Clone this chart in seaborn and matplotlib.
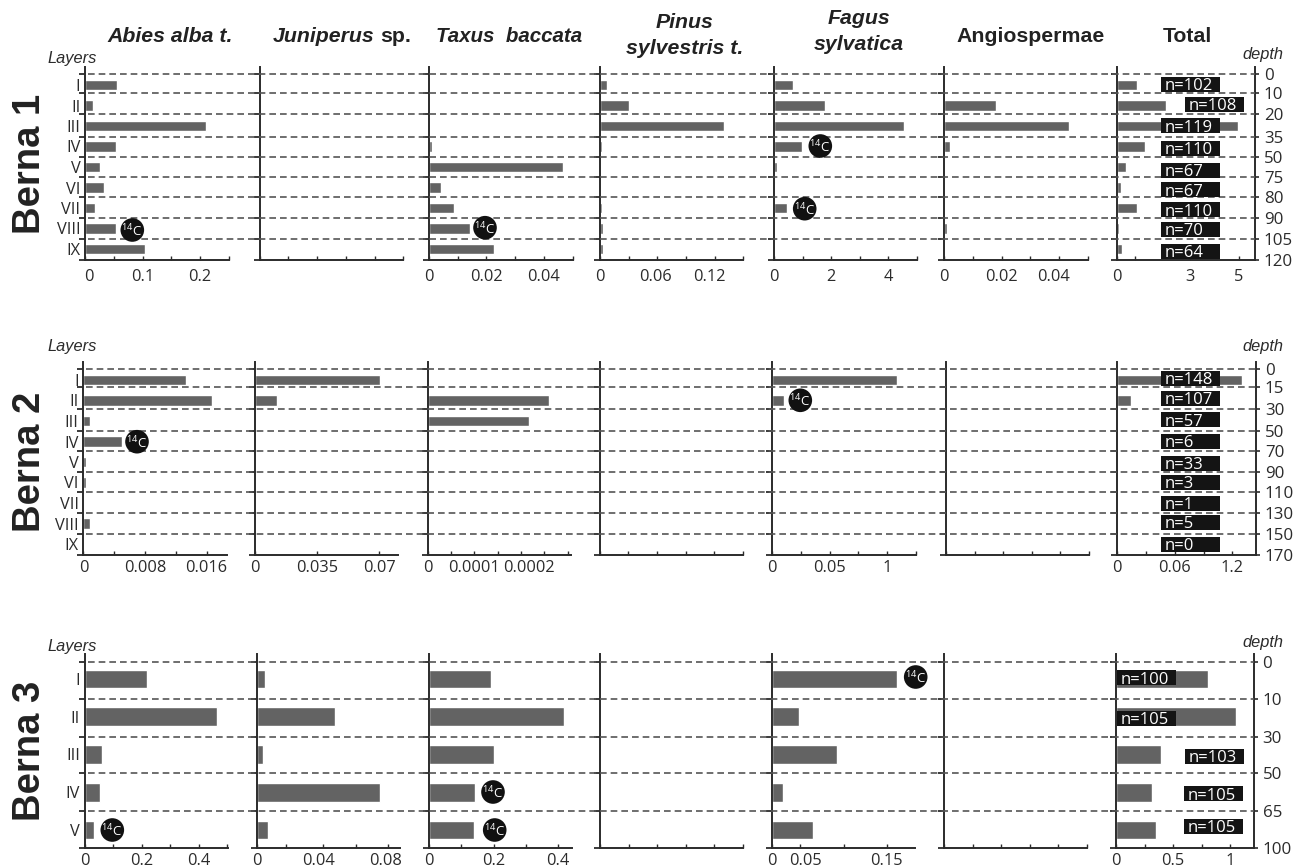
import matplotlib
matplotlib.use("Agg")
import matplotlib.pyplot as plt
import seaborn as sns
from matplotlib.patches import Circle, Rectangle
from matplotlib.transforms import ScaledTranslation

# ---------- data ----------
layers_9 = ["I", "II", "III", "IV", "V", "VI", "VII", "VIII", "IX"]
layers_5 = ["I", "II", "III", "IV", "V"]
taxa_count = 7

b1_abies = [0.055, 0.0127, 0.21, 0.053, 0.026, 0.033, 0.0174, 0.054, 0.104]
b1_juniperus = [0, 0, 0, 0, 0, 0, 0, 0, 0]
b1_taxus = [0, 0, 0, 0.0009, 0.0467, 0.0041, 0.0088, 0.0144, 0.0226]
b1_pinus = [0.007, 0.0304, 0.1295, 0.002, 0, 0, 0.002, 0.0028, 0.0035]
b1_fagus = [0.65, 1.78, 4.57, 0.99, 0.09, 0.035, 0.44, 0, 0]
b1_angio = [0, 0.0182, 0.0434, 0.0021, 0, 0, 0, 0.001, 0]
b1_total = [0.82, 2.0, 4.96, 1.16, 0.37, 0.15, 0.81, 0.08, 0.19]

b2_abies = [0.01327, 0.0167, 0.0008, 0.005, 0.00035, 0.0003, 0, 0.0008, 0]
b2_juniperus = [0.0702, 0.0121, 0, 0, 0, 0, 0, 0, 0]
b2_taxus = [0, 0.000259, 0.000218, 0, 0, 0, 0, 0, 0]
b2_pinus = [0, 0, 0, 0, 0, 0, 0, 0, 0]
b2_fagus = [0.109, 0.01, 0, 0, 0, 0, 0, 0, 0]
b2_angio = [0, 0, 0, 0, 0, 0, 0, 0, 0]
b2_total = [0.1306, 0.0146, 0, 0, 0, 0, 0, 0, 0]

b3_abies = [0.218, 0.463, 0.061, 0.052, 0.032]
b3_juniperus = [0.0047, 0.0474, 0.0035, 0.075, 0.0067]
b3_taxus = [0.192, 0.419, 0.201, 0.142, 0.139]
b3_pinus = [0, 0, 0, 0, 0]
b3_fagus = [0.163, 0.0352, 0.0855, 0.0151, 0.0535]
b3_angio = [0, 0, 0, 0, 0]
b3_total = [0.807, 1.05, 0.395, 0.318, 0.35]

b1_depth = ["0", "10", "20", "35", "50", "75", "80", "90", "105", "120"]
b2_depth = ["0", "15", "30", "50", "70", "90", "110", "130", "150", "170"]
b3_depth = ["0", "10", "30", "50", "65", "100"]

b1_n = ["n=102", "n=108", "n=119", "n=110", "n=67", "n=67", "n=110", "n=70", "n=64"]
b2_n = ["n=148", "n=107", "n=57", "n=6", "n=33", "n=3", "n=1", "n=5", "n=0"]
b3_n = ["n=100", "n=105", "n=103", "n=105", "n=105"]

site_names = ["Berna 1", "Berna 2", "Berna 3"]

# axis maxima, tick values and tick labels per panel
b1_axes = [
    (0.25, [0, .05, .1, .15, .2, .25], ["0", "", "0.1", "", "0.2", ""]),
    (5, [0, 1, 2, 3, 4, 5], [""] * 6),
    (0.05, [0, .01, .02, .03, .04, .05], ["0", "", "0.02", "", "0.04", ""]),
    (0.15, [0, .03, .06, .09, .12, .15], ["0", "", "0.06", "", "0.12", ""]),
    (5, [0, 1, 2, 3, 4, 5], ["0", "", "2", "", "4", ""]),
    (0.05, [0, .01, .02, .03, .04, .05], ["0", "", "0.02", "", "0.04", ""]),
    (5.68, [0, .72, 3, 5], ["0", "", "3", "5"]),
]
b2_axes = [
    (0.0186, [0, .004, .008, .012, .016], ["0", "", "0.008", "", "0.016"]),
    (0.0806, [0, .035, .07], ["0", "0.035", "0.07"]),
    (0.000308, [0, .00005, .0001, .00015, .0002, .00025, .0003],
     ["0", "", "0.0001", "", "0.0002", "", ""]),
    (5, [0, 1, 2, 3, 4, 5], [""] * 6),
    (0.125, [0, .025, .05, .075, .1, .125], ["0", "", "0.05", "", "1", ""]),
    (5, [0, 1, 2, 3, 4, 5], [""] * 6),
    (0.145, [0, .03, .06, .09, .12], ["0", "", "0.06", "", "1.2"]),
]
b3_axes = [
    (0.503, [0, .1, .2, .3, .4, .5], ["0", "", "0.2", "", "0.4", ""]),
    (0.0870, [0, .0175, .04, .06, .08], ["0", "", "0.04", "", "0.08"]),
    (0.442, [0, .1, .2, .3, .4], ["0", "", "0.2", "", "0.4"]),
    (5, [0, 1, 2, 3, 4, 5], [""] * 6),
    (0.187, [0, .037, .095, .15], ["0", "0.05", "", "0.15"]),
    (5, [0, 1, 2, 3, 4, 5], [""] * 6),
    (1.21, [0, .25, .5, .75, 1], ["0", "", "0.5", "", "1"]),
]

# ---------- layout (pixels) ----------
W, H = 1303, 868
row_layout = [
    dict(first=85.0, step=20.5, top=66.7, bottom=259.5, label_pad=6.5,
         lefts=[85.3, 259.7, 429, 600, 774, 943.7, 1117.3],
         rights=[228.7, 403.3, 572.7, 743.3, 916.7, 1088.3, 1255.3],
         bounds=[74, 93, 114, 137, 157, 177, 197, 218, 239, 259.5],
         title_y=58, depth_y=54, site_y=164,
         boxes=[(1161, 84.5), (1185, 104), (1161, 125.5), (1161, 148), (1161, 170),
                (1161, 189.5), (1161, 209.5), (1161, 229), (1161, 251)]),
    dict(first=380.0, step=20.5, top=362, bottom=555, label_pad=3.5,
         lefts=[83.4, 255.3, 427.9, 599.7, 772.3, 946, 1117.3],
         rights=[226.6, 398, 571.4, 742.7, 915.7, 1089, 1256.3],
         bounds=[368.7, 387, 408.7, 431, 451, 472, 492, 513, 534, 555],
         title_y=346, depth_y=346, site_y=462,
         boxes=[(1161, 378.5), (1161, 398), (1161, 419.5), (1161, 441), (1161, 463),
                (1161, 482.5), (1161, 503), (1161, 522.5), (1161, 544)]),
    dict(first=679.0, step=37.75, top=654.3, bottom=848, label_pad=3.5,
         lefts=[84.7, 257, 429, 600, 771.7, 944, 1116],
         rights=[228, 400, 571.7, 742.7, 915, 1087, 1254],
         bounds=[661.7, 699, 737, 773, 811, 848],
         title_y=646, depth_y=642, site_y=751,
         boxes=[(1117, 677.5), (1117, 718), (1185, 756), (1184, 793.5), (1184, 826.5)]),
]
# sideways nudges of single tick labels, in pixels: (row, panel, tick) -> shift
label_shift = {(0, 0, 0): 4, (0, 3, 2): -2, (0, 3, 4): -5.5, (0, 5, 4): -6,
               (1, 2, 4): 8, (2, 1, 2): -4, (2, 1, 4): -3, (2, 4, 1): 5}
radio_marks = [(132.3, 230), (485, 227.7), (820.3, 146), (804.7, 208.7),
               (137, 441.7), (800.3, 400.3),
               (112.3, 830), (493, 792), (494.7, 830), (915.7, 677)]

BAR = "#636363"
INK = "#2b2b2b"
TICK_FONT = 11.8

sns.set_theme(style="white")
plt.rcParams["font.family"] = ["Open Sans", "DejaVu Sans"]
plt.rcParams["mathtext.fontset"] = "custom"
plt.rcParams["mathtext.rm"] = "Open Sans"
plt.rcParams["mathtext.default"] = "regular"

fig = plt.figure(figsize=(W / 100, H / 100), dpi=100, facecolor="white")


def to_fig(left, top, right, bottom):
    return [left / W, 1 - bottom / H, (right - left) / W, (bottom - top) / H]


rows = [
    (layers_9, [b1_abies, b1_juniperus, b1_taxus, b1_pinus, b1_fagus, b1_angio, b1_total], b1_axes, b1_depth),
    (layers_9, [b2_abies, b2_juniperus, b2_taxus, b2_pinus, b2_fagus, b2_angio, b2_total], b2_axes, b2_depth),
    (layers_5, [b3_abies, b3_juniperus, b3_taxus, b3_pinus, b3_fagus, b3_angio, b3_total], b3_axes, b3_depth),
]

for r, ((names, series, axes_spec, depth), lay) in enumerate(zip(rows, row_layout)):
    to_cat = lambda py, lay=lay: (py - lay["first"]) / lay["step"]
    bound_pos = [to_cat(b) for b in lay["bounds"]]
    for c in range(taxa_count):
        ax = fig.add_axes(to_fig(lay["lefts"][c], lay["top"], lay["rights"][c], lay["bottom"]))
        ax.patch.set_alpha(0)
        sns.barplot(x=series[c], y=names, order=names, orient="h", color=BAR,
                    saturation=1, width=0.5, ax=ax)
        xmax, ticks, labels = axes_spec[c]
        ax.set_xlim(0, xmax)
        ax.set_ylim(to_cat(lay["bottom"]), to_cat(lay["top"]))
        ax.set_xlabel("")
        ax.set_ylabel("")
        ax.set_xticks(ticks, labels)
        ax.set_yticks(bound_pos, minor=True)
        ax.tick_params(axis="x", which="major", direction="in", length=3.2, width=1.0,
                       color=INK, labelcolor=INK, labelsize=TICK_FONT,
                       pad=lay["label_pad"], bottom=True)
        ax.tick_params(axis="y", which="minor", direction="out", length=4.2, width=1.3,
                       color=INK, left=True)
        ax.tick_params(axis="y", which="major", length=0, labelsize=TICK_FONT,
                       labelcolor=INK, pad=3.5, labelleft=(c == 0))
        for i, lab in enumerate(ax.get_xticklabels()):
            shift = label_shift.get((r, c, i))
            if shift:
                lab.set_transform(lab.get_transform()
                                  + ScaledTranslation(shift / 100, 0, fig.dpi_scale_trans))
        for side, spine in ax.spines.items():
            spine.set_visible(side in ("left", "bottom"))
            spine.set_color(INK)
            spine.set_linewidth(1.4)
        if c == taxa_count - 1:
            tax = ax.twinx()
            tax.set_ylim(ax.get_ylim())
            tax.set_yticks(bound_pos, depth)
            tax.tick_params(axis="y", direction="out", length=3.2, width=1.2, color=INK,
                            labelcolor=INK, labelsize=TICK_FONT + 0.4, pad=3, right=True)
            tax.grid(False)
            for side, spine in tax.spines.items():
                spine.set_visible(side == "right")
                spine.set_color(INK)
                spine.set_linewidth(1.4)

# ---------- overlay: guides, labels, annotations ----------
ov = fig.add_axes([0, 0, 1, 1], zorder=20)
ov.set_xlim(0, W)
ov.set_ylim(H, 0)
ov.axis("off")
ov.patch.set_alpha(0)

for lay, n_labels, site in zip(row_layout, [b1_n, b2_n, b3_n], site_names):
    ov.hlines(lay["bounds"][:-1], lay["lefts"][0] + 3, lay["rights"][-1], colors="#555555",
              linewidth=1.2, linestyles=(0, (4.0, 2.4)), zorder=1)
    for (bx, by), label in zip(lay["boxes"], n_labels):
        ov.add_patch(Rectangle((bx, by - 7.5), 58.5, 15, facecolor="#141414",
                               edgecolor="none", zorder=3))
        ov.text(bx + 4, by + 6.0, label, color="white", fontsize=12, ha="left",
                va="baseline", zorder=4)
    ov.text(47, lay["title_y"], "Layers", fontstyle="italic", fontsize=11.8, color=INK,
            family="Liberation Sans", ha="left", va="center")
    ov.text(1242, lay["depth_y"], "depth", fontstyle="italic", fontsize=11.8, color=INK,
            family="Liberation Sans", ha="left", va="center")
    ov.text(30, lay["site_y"], site, rotation=90, fontsize=27.5, fontweight="bold",
            family="Liberation Sans", color="#222222", ha="center", va="center")

for px, py in radio_marks:
    ov.add_patch(Circle((px, py), 11.8, facecolor="#111111", edgecolor="none", zorder=5))
    ov.text(px - 0.5, py + 1, "$^{14}$C", color="white", fontsize=9.5, ha="center", va="center", zorder=6)

title_kw = dict(family="Liberation Sans", fontweight="bold", fontsize=15.3, color="#222222",
                va="center")
ov.text(170, 36, "Abies alba t.", fontstyle="italic", ha="center", **title_kw)
ov.text(273, 36, "Juniperus", fontstyle="italic", ha="left", **title_kw)
ov.text(411, 36, "sp.", ha="right", **title_kw)
ov.text(509.5, 36, "Taxus  baccata", fontstyle="italic", ha="center",
        **{**title_kw, "fontsize": 14.8})
ov.text(685, 22, "Pinus", fontstyle="italic", ha="center", **title_kw)
ov.text(685, 48, "sylvestris t.", fontstyle="italic", ha="center", **title_kw)
ov.text(859, 19, "Fagus", fontstyle="italic", ha="center", **title_kw)
ov.text(859, 44, "sylvatica", fontstyle="italic", ha="center", **title_kw)
ov.text(1031, 36, "Angiospermae", ha="center", **title_kw)
ov.text(1187, 36, "Total", ha="center", **title_kw)

fig.savefig("out.png", dpi=100, facecolor="white")
